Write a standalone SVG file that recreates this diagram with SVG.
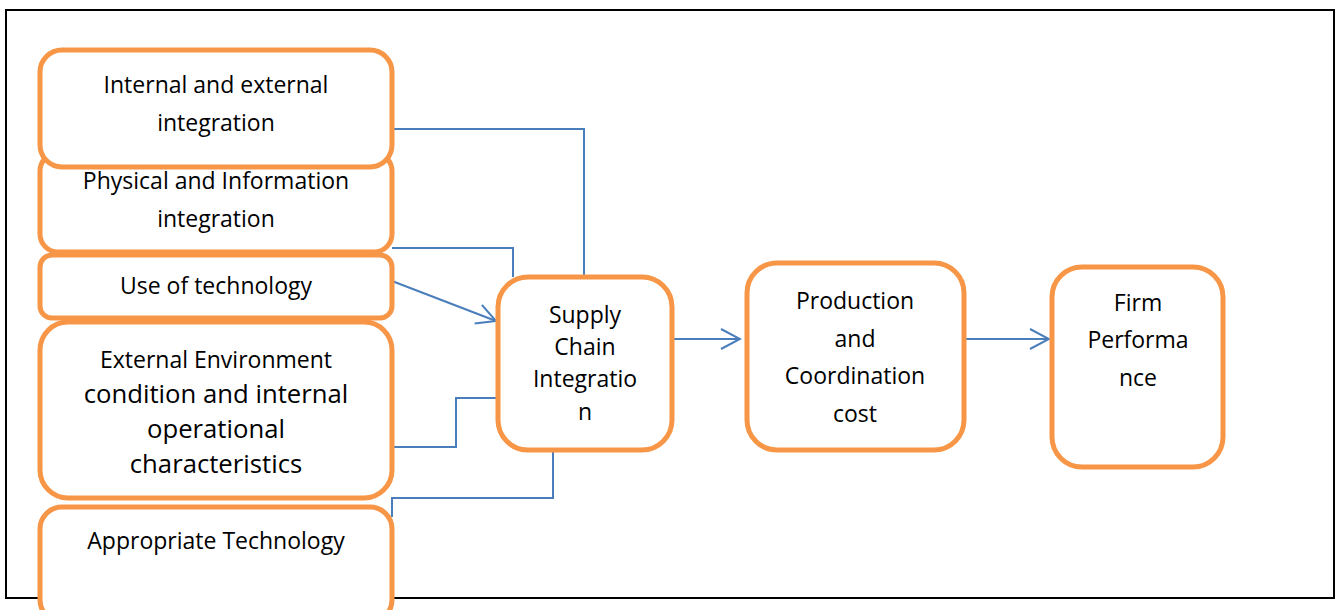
<svg xmlns="http://www.w3.org/2000/svg" width="1336" height="610" viewBox="0 0 1336 610">
  <style>
    .box { fill: #ffffff; stroke: #F79646; stroke-width: 5; }
    .link { fill: none; stroke: #4A7EBB; stroke-width: 2; }
    .lbl { font-family: "Open Sans", "Liberation Sans", sans-serif; font-size: 23px; fill: #000000; text-anchor: middle; }
    .big { font-size: 25.7px; }
  </style>
  <defs>
    <marker id="open-arrow" markerWidth="22" markerHeight="24" refX="20" refY="11" orient="auto" markerUnits="userSpaceOnUse">
      <path d="M1,1 L20,11 L1,21" fill="none" stroke="#4A7EBB" stroke-width="2"/>
    </marker>
  </defs>

  <rect width="1336" height="610" fill="#ffffff"/>
  <!-- outer frame -->
  <rect x="6" y="10" width="1328" height="588" fill="none" stroke="#000000" stroke-width="2"/>

  <!-- connectors -->
  <g id="connectors">
    <polyline class="link" points="392,129 584,129 584,277"/>
    <polyline class="link" points="392,248 513,248 513,277"/>
    <line class="link" x1="392" y1="281" x2="496" y2="321" marker-end="url(#open-arrow)"/>
    <polyline class="link" points="392,447 456,447 456,398 498,398"/>
    <polyline class="link" points="392,517 392,498 553,498 553,450"/>
    <line class="link" x1="672" y1="339" x2="740" y2="339" marker-end="url(#open-arrow)"/>
    <line class="link" x1="964" y1="339" x2="1049" y2="339" marker-end="url(#open-arrow)"/>
  </g>

  <g id="physical-information">
    <rect class="box" x="40" y="153" width="352" height="99" rx="18"/>
    <text class="lbl" x="216" y="189">Physical and Information</text>
    <text class="lbl" x="216" y="227">integration</text>
  </g>

  <g id="internal-external">
    <rect class="box" x="40" y="50" width="352" height="117" rx="22"/>
    <text class="lbl" x="216" y="93">Internal and external</text>
    <text class="lbl" x="216" y="131">integration</text>
  </g>

  <g id="use-of-technology">
    <rect class="box" x="40" y="255" width="352" height="63" rx="12"/>
    <text class="lbl" x="216" y="294">Use of technology</text>
  </g>

  <g id="environment-operations">
    <rect class="box" x="40" y="322" width="352" height="176" rx="28"/>
    <text class="lbl" x="216" y="368">External Environment</text>
    <text class="lbl big" x="216" y="403">condition and internal</text>
    <text class="lbl big" x="216" y="438">operational</text>
    <text class="lbl big" x="216" y="473">characteristics</text>
  </g>

  <g id="appropriate-technology">
    <rect class="box" x="40" y="507" width="352" height="115" rx="22"/>
    <text class="lbl" x="216" y="549">Appropriate Technology</text>
  </g>

  <g id="supply-chain-integration">
    <rect class="box" x="498" y="277" width="174" height="173" rx="30"/>
    <text class="lbl" x="585" y="323">Supply</text>
    <text class="lbl" x="585" y="355">Chain</text>
    <text class="lbl" x="585" y="387">Integratio</text>
    <text class="lbl" x="585" y="420">n</text>
  </g>

  <g id="production-coordination">
    <rect class="box" x="747" y="263" width="217" height="187" rx="30"/>
    <text class="lbl" x="855" y="309">Production</text>
    <text class="lbl" x="855" y="347">and</text>
    <text class="lbl" x="855" y="384">Coordination</text>
    <text class="lbl" x="855" y="422">cost</text>
  </g>

  <g id="firm-performance">
    <rect class="box" x="1052" y="267" width="171" height="200" rx="30"/>
    <text class="lbl" x="1138" y="311">Firm</text>
    <text class="lbl" x="1138" y="348">Performa</text>
    <text class="lbl" x="1138" y="386">nce</text>
  </g>
</svg>
